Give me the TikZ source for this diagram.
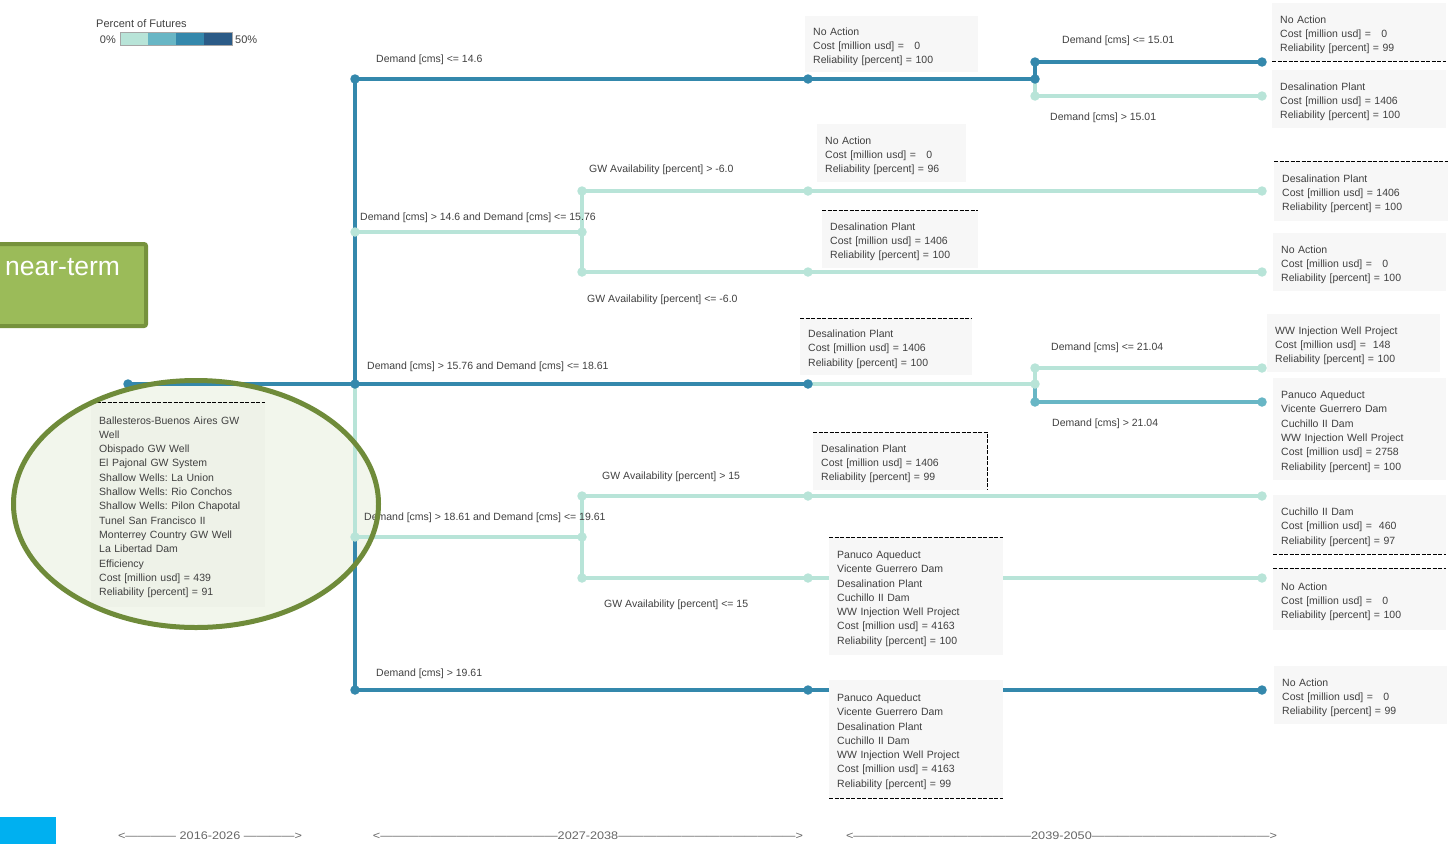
\documentclass[tikz,border=0pt]{standalone}
\usepackage{fontspec}
\setmainfont{Liberation Sans}
\usepackage{graphicx}
\frenchspacing

\definecolor{dkblue}{HTML}{3488AC}
\definecolor{ltmint}{HTML}{B8E4D8}
\definecolor{midblue}{HTML}{68B6C5}
\definecolor{navy}{HTML}{2B5B87}
\definecolor{boxgray}{HTML}{F7F7F7}
\definecolor{txtgray}{HTML}{404040}
\definecolor{olive}{HTML}{6F8B3A}
\definecolor{ovalfill}{HTML}{F2F6EC}
\definecolor{qbox}{HTML}{EEF2E8}
\definecolor{leaf}{HTML}{9BBB59}
\definecolor{leafedge}{HTML}{76923C}
\definecolor{cyanbar}{HTML}{00B0F0}
\definecolor{axisgray}{HTML}{666666}

\pgfdeclarelayer{bg}
\pgfdeclarelayer{wires}
\pgfdeclarelayer{fg}
\pgfsetlayers{bg,wires,main,fg}

\begin{document}
\begin{tikzpicture}[x=1pt,y=-1pt,
  dot/.style={circle,inner sep=0pt,minimum size=9.5pt},
  dkdot/.style={dot,fill=dkblue},
  ltdot/.style={dot,fill=ltmint},
  mddot/.style={dot,fill=midblue},
  dk/.style={draw=dkblue,line width=3.5pt},
  lt/.style={draw=ltmint,line width=3.5pt},
  md/.style={draw=midblue,line width=3.5pt},
  lbl/.style={anchor=west,inner sep=0pt,yshift=-2pt,text=txtgray,font=\fontsize{10.5}{13}\selectfont},
  info/.style={anchor=north west,fill=boxgray,inner xsep=8pt,inner ysep=0pt,
    align=left,text=txtgray,font=\fontsize{10.5}{14.3}\selectfont,
    execute at begin node={\rule{0pt}{12.5pt}}},
  dsh/.style={draw=black,line width=0.8pt,dash pattern=on 4pt off 1.5pt},
  axislbl/.style={inner sep=0pt,text=axisgray,font=\fontsize{11}{13}\selectfont}]

\useasboundingbox (0,0) rectangle (1450,844);

% ---------- legend ----------
\node[lbl,font=\fontsize{11}{13}\selectfont] (legtitle) at (96,22) {Percent of Futures};
\node[lbl,anchor=east,font=\fontsize{11}{13}\selectfont] (leg0) at (116,38) {0\%};
\node[lbl,font=\fontsize{11}{13}\selectfont] (leg50) at (235,38) {50\%};
\fill[ltmint] (120,32) rectangle (148,45);
\fill[midblue] (148,32) rectangle (176,45);
\fill[dkblue] (176,32) rectangle (204,45);
\fill[navy] (204,32) rectangle (232,45);
\draw[gray!70,line width=0.6pt] (120,32) rectangle (232,45);

% ---------- tree nodes ----------
\node[dkdot] (r) at (128,384) {};
\node[dkdot] (t0) at (355,384) {};
\node[dkdot] (t1) at (355,79) {};
\node[ltdot] (t2) at (355,232) {};
\node[ltdot] (t4) at (355,537) {};
\node[dkdot] (t5) at (355,690) {};

\node[dkdot] (a1) at (808,79) {};
\node[dkdot] (a2) at (1035,79) {};
\node[dkdot] (a3) at (1035,62) {};
\node[ltdot] (a4) at (1035,96) {};
\node[dkdot] (a5) at (1262,62) {};
\node[ltdot] (a6) at (1262,96) {};

\node[ltdot] (b1) at (582,232) {};
\node[ltdot] (b2) at (582,191) {};
\node[ltdot] (b3) at (582,272) {};
\node[ltdot] (b4) at (808,191) {};
\node[ltdot] (b5) at (808,272) {};
\node[ltdot] (b6) at (1262,191) {};
\node[ltdot] (b7) at (1262,272) {};

\node[dkdot] (c1) at (808,384) {};
\node[ltdot] (c2) at (1035,384) {};
\node[ltdot] (c3) at (1035,368) {};
\node[mddot] (c4) at (1035,402) {};
\node[ltdot] (c5) at (1262,368) {};
\node[mddot] (c6) at (1262,402) {};

\node[ltdot] (d1) at (582,537) {};
\node[ltdot] (d2) at (582,496) {};
\node[ltdot] (d3) at (582,578) {};
\node[ltdot] (d4) at (808,496) {};
\node[ltdot] (d5) at (808,578) {};
\node[ltdot] (d6) at (1262,496) {};
\node[ltdot] (d7) at (1262,578) {};

\node[dkdot] (e1) at (808,690) {};
\node[dkdot] (e2) at (1262,690) {};

% ---------- connectors ----------
\begin{pgfonlayer}{wires}
  % light branches
  \draw[lt] (t2.center) -- (b1.center);
  \draw[lt] (b1.center) -- (b2.center) -- (b4.center) -- (b6.center);
  \draw[lt] (b1.center) -- (b3.center) -- (b5.center) -- (b7.center);
  \draw[lt] (a2.center) -- (a4.center) -- (a6.center);
  \draw[lt] (c1.center) -- (c2.center);
  \draw[lt] (c2.center) -- (c3.center) -- (c5.center);
  \draw[lt] (t0.center) -- (t4.center) -- (d1.center);
  \draw[lt] (d1.center) -- (d2.center) -- (d4.center) -- (d6.center);
  \draw[lt] (d1.center) -- (d3.center) -- (d5.center) -- (d7.center);
  % dark branches
  \draw[dk] (r.center) -- (t0.center);
  \draw[dk] (t0.center) -- (t1.center) -- (a1.center) -- (a2.center);
  \draw[dk] (a2.center) -- (a3.center) -- (a5.center);
  \draw[dk] (t0.center) -- (c1.center);
  \draw[dk] (t4.center) -- (t5.center) -- (e1.center) -- (e2.center);
  % medium branch
  \draw[md] (c2.center) -- (c4.center) -- (c6.center);
\end{pgfonlayer}

% ---------- branch conditions ----------
\node[lbl] (l1) at (376,58) {Demand [cms] <= 14.6};
\node[lbl] (l2) at (360,216) {Demand [cms] > 14.6 and Demand [cms] <= 15.76};
\node[lbl] (l2a) at (589,168) {GW Availability [percent] > -6.0};
\node[lbl] (l2b) at (587,298) {GW Availability [percent] <= -6.0};
\node[lbl] (l3) at (367,365) {Demand [cms] > 15.76 and Demand [cms] <= 18.61};
\node[lbl] (l4) at (364,516) {Demand [cms] > 18.61 and Demand [cms] <= 19.61};
\node[lbl] (l4a) at (602,475) {GW Availability [percent] > 15};
\node[lbl] (l4b) at (604,603) {GW Availability [percent] <= 15};
\node[lbl] (l5) at (376,672) {Demand [cms] > 19.61};
\node[lbl] (l1a) at (1062,39) {Demand [cms] <= 15.01};
\node[lbl] (l1b) at (1050,116) {Demand [cms] > 15.01};
\node[lbl] (l3a) at (1051,346) {Demand [cms] <= 21.04};
\node[lbl] (l3b) at (1052,422) {Demand [cms] > 21.04};

% ---------- portfolio boxes ----------
\node[info,text width=157pt,minimum height=56pt] (bA) at (805,16)
  {No Action\\Cost [million usd] =\ \ \ 0\\Reliability [percent] = 100};
\node[info,text width=158pt,minimum height=58pt] (bB) at (1272,3)
  {No Action\\Cost [million usd] =\ \ \ 0\\Reliability [percent] = 99};
\draw[dsh] (bB.south west) -- (bB.south east);
\node[info,text width=158pt,minimum height=58pt] (bC) at (1272,70)
  {Desalination Plant\\Cost [million usd] = 1406\\Reliability [percent] = 100};
\node[info,text width=133pt,minimum height=58pt] (bD) at (817,124)
  {No Action\\Cost [million usd] =\ \ \ 0\\Reliability [percent] = 96};
\node[info,text width=140pt,minimum height=58pt] (bE) at (822,210)
  {Desalination Plant\\Cost [million usd] = 1406\\Reliability [percent] = 100};
\draw[dsh] (bE.north west) -- (bE.north east);
\node[info,text width=158pt,minimum height=60pt] (bF) at (1274,161)
  {Desalination Plant\\Cost [million usd] = 1406\\Reliability [percent] = 100};
\draw[dsh] (bF.north west) -- (bF.north east);
\node[info,text width=157pt,minimum height=58pt] (bG) at (1273,233)
  {No Action\\Cost [million usd] =\ \ \ 0\\Reliability [percent] = 100};
\node[info,text width=156pt,minimum height=57pt] (bH) at (800,318)
  {Desalination Plant\\Cost [million usd] = 1406\\Reliability [percent] = 100};
\draw[dsh] (bH.north west) -- (bH.north east);
\node[info,text width=157pt,minimum height=58pt] (bI) at (1267,314)
  {WW Injection Well Project\\Cost [million usd] =\ \ 148\\Reliability [percent] = 100};
\node[info,text width=157pt,minimum height=102pt] (bJ) at (1273,378)
  {Panuco Aqueduct\\Vicente Guerrero Dam\\Cuchillo II Dam\\WW Injection Well Project\\Cost [million usd] = 2758\\Reliability [percent] = 100};
\node[info,text width=158pt,minimum height=58pt] (bK) at (813,432)
  {Desalination Plant\\Cost [million usd] = 1406\\Reliability [percent] = 99};
\draw[dsh] (bK.north west) -- (bK.north east) -- (bK.south east);
\node[info,text width=157pt,minimum height=59pt] (bL) at (1273,495)
  {Cuchillo II Dam\\Cost [million usd] =\ \ 460\\Reliability [percent] = 97};
\draw[dsh] (bL.south west) -- (bL.south east);
\node[info,text width=157pt,minimum height=62pt] (bM) at (1273,568)
  {No Action\\Cost [million usd] =\ \ \ 0\\Reliability [percent] = 100};
\draw[dsh] (bM.north west) -- (bM.north east);
\node[info,text width=158pt,minimum height=118pt] (bN) at (829,537)
  {Panuco Aqueduct\\Vicente Guerrero Dam\\Desalination Plant\\Cuchillo II Dam\\WW Injection Well Project\\Cost [million usd] = 4163\\Reliability [percent] = 100};
\draw[dsh] (bN.north west) -- (bN.north east);
\node[info,text width=158pt,minimum height=118pt] (bO) at (829,680)
  {Panuco Aqueduct\\Vicente Guerrero Dam\\Desalination Plant\\Cuchillo II Dam\\WW Injection Well Project\\Cost [million usd] = 4163\\Reliability [percent] = 99};
\draw[dsh] (bO.south west) -- (bO.south east);
\node[info,text width=157pt,minimum height=58pt] (bP) at (1274,666)
  {No Action\\Cost [million usd] =\ \ \ 0\\Reliability [percent] = 99};

% ---------- near-term portfolio ----------
\begin{pgfonlayer}{bg}
  \fill[ovalfill] (196,504) ellipse [x radius=182.5, y radius=123.5];
\end{pgfonlayer}
\node[info,fill=qbox,text width=158pt,minimum height=205pt] (bQ) at (91,402)
  {Ballesteros-Buenos Aires GW\\Well\\Obispado GW Well\\El Pajonal GW System\\Shallow Wells: La Union\\Shallow Wells: Rio Conchos\\Shallow Wells: Pilon Chapotal\\Tunel San Francisco II\\Monterrey Country GW Well\\La Libertad Dam\\Efficiency\\Cost [million usd] = 439\\Reliability [percent] = 91};
\draw[dsh] (bQ.north west) -- (bQ.north east);
\begin{pgfonlayer}{fg}
  \draw[olive,line width=5pt] (196,504) ellipse [x radius=182.5, y radius=123.5];
\end{pgfonlayer}

\node[draw=leafedge,fill=leaf,line width=4pt,rounded corners=2pt,anchor=north west,
  minimum width=154pt,minimum height=82pt,inner sep=0pt] (nt) at (-10,242) {};
\node[anchor=west,inner sep=0pt,text=white,font=\fontsize{26.5}{30}\selectfont] (ntl) at (5,267) {near-term};

% ---------- period axis ----------
\fill[cyanbar] (0,817) rectangle (56,844);
\node[axislbl] (p1) at (210,836)
  {\resizebox{184pt}{\height}{<------------ 2016-2026 ------------>}};
\node[axislbl] (p2) at (588,836)
  {\resizebox{430pt}{\height}{<------------------------------------------2027-2038------------------------------------------>}};
\node[axislbl] (p3) at (1061.5,836)
  {\resizebox{431pt}{\height}{<------------------------------------------2039-2050------------------------------------------>}};

\end{tikzpicture}
\end{document}
